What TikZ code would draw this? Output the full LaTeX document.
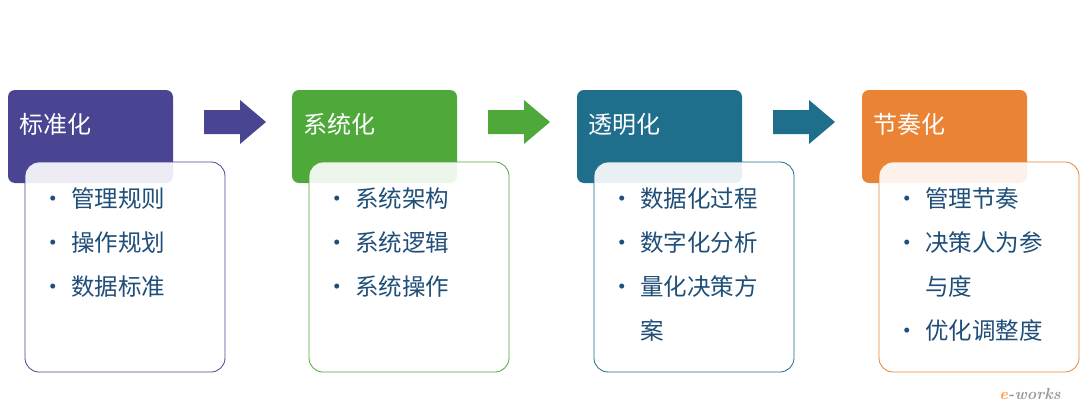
\documentclass[tikz,border=0pt]{standalone}
\usepackage{fontspec}
\newfontfamily\cjk{Noto Sans CJK SC}
\begin{document}
\begin{tikzpicture}[x=1pt,y=-1pt,
  hdr/.style={rounded corners=7pt},
  body/.style={rounded corners=14pt,fill=white,fill opacity=0.9,line width=0.8pt},
  htext/.style={anchor=west,text=white,font=\cjk\fontsize{24}{28}\selectfont},
  item/.style={anchor=north west,text=textblue,font=\cjk\fontsize{23.5}{44}\selectfont,align=left}]
\definecolor{cA}{HTML}{4A4592}
\definecolor{cB}{HTML}{4EA83A}
\definecolor{cC}{HTML}{1F6E8C}
\definecolor{cD}{HTML}{EA8434}
\definecolor{textblue}{HTML}{1F4E79}
\newcommand{\bul}{\textbullet\hspace{6pt}}
\useasboundingbox (0,0) rectangle (1080,415);
\fill[white] (0,0) rectangle (1080,415);
\foreach \x/\c/\t/\n in {0/cA/标准化/a,284/cB/系统化/b,569/cC/透明化/c,854/cD/节奏化/d}{
  \fill[hdr,\c] (8+\x,90) rectangle (173+\x,183);
  \draw[body,draw=\c] (25+\x,162) rectangle (225+\x,372);
  \node[htext] (h\n) at (16+\x,124) {\t};
}
\node[item] (ta) at (38,184) {\bul 管理规则\\\bul 操作规划\\\bul 数据标准};
\node[item] (tb) at (322,184) {\bul 系统架构\\\bul 系统逻辑\\\bul 系统操作};
\node[item] (tc) at (607,184) {\bul 数据化过程\\\bul 数字化分析\\\bul 量化决策方\\\phantom{\bul}案};
\node[item] (td) at (892,184) {\bul 管理节奏\\\bul 决策人为参\\\phantom{\bul}与度\\\bul 优化调整度};
\foreach \x/\c in {0/cA,284/cB,569/cC}{
  \fill[\c] (204+\x,110) -- (240+\x,110) -- (240+\x,100) -- (266+\x,122) -- (240+\x,144) -- (240+\x,134) -- (204+\x,134) -- cycle;
}
\node[font=\bfseries\itshape\fontsize{16}{18}\selectfont,text=gray!80] (wm) at (1030,394) {\textcolor{orange!80}{e}-works};
\end{tikzpicture}
\end{document}
